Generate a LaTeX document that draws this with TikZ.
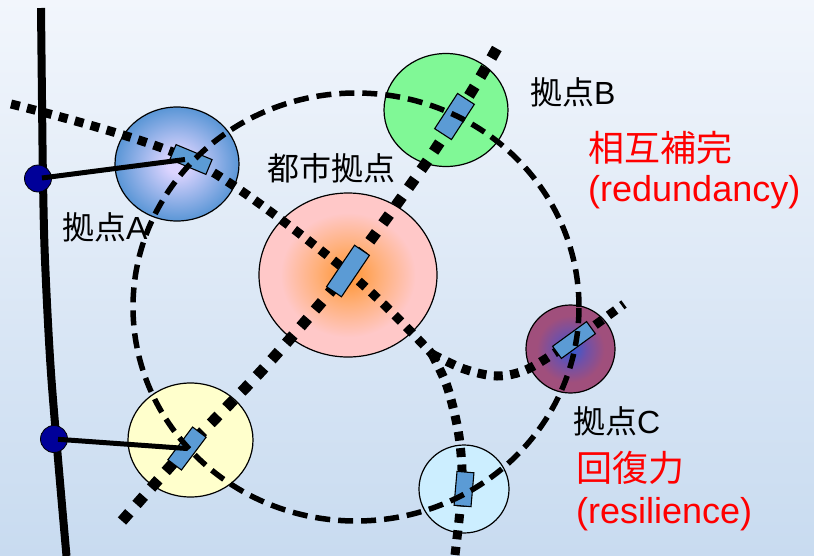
\documentclass[tikz,border=0pt]{standalone}
\usepackage{fontspec}
\setmainfont{Liberation Sans}
\newfontfamily\cjk{Noto Sans CJK JP}
\usetikzlibrary{shapes.geometric,calc}
\definecolor{bgtop}{HTML}{F2F6FC}
\definecolor{bgbot}{HTML}{C8DBF0}
\definecolor{boxblue}{HTML}{5B9BD5}
\definecolor{lavA}{HTML}{DCD4FF}
\definecolor{bluA}{HTML}{5A96D6}
\definecolor{orgC}{HTML}{FF9330}
\definecolor{peachC}{HTML}{FFB07A}
\definecolor{pinkC}{HTML}{FFC8C8}
\definecolor{greenB}{HTML}{80F896}
\definecolor{blueC}{HTML}{2C5CD8}
\definecolor{purpC}{HTML}{7050A8}
\definecolor{mauveC}{HTML}{A04F7C}
\definecolor{yelY}{HTML}{FFFFCC}
\definecolor{ltblue}{HTML}{CCEEFF}
\definecolor{navy}{HTML}{000099}
\definecolor{txtred}{HTML}{FF0000}
\pgfdeclareradialshading{shA}{\pgfpoint{0bp}{0bp}}{color(0bp)=(lavA); color(4bp)=(lavA); color(25bp)=(bluA); color(50bp)=(bluA)}
\pgfdeclareradialshading{shCen}{\pgfpoint{0bp}{0bp}}{color(0bp)=(orgC); color(9bp)=(peachC); color(19bp)=(pinkC); color(50bp)=(pinkC)}
\pgfdeclareradialshading{shC}{\pgfpoint{0bp}{0bp}}{color(0bp)=(blueC); color(9bp)=(purpC); color(19bp)=(mauveC); color(50bp)=(mauveC)}
\tikzset{
  site/.style={ellipse, draw=black, line width=1.2pt, inner sep=0pt, outer sep=0pt},
  stn/.style={rectangle, draw=black, line width=1.1pt, fill=boxblue, inner sep=0pt},
  rail/.style={line width=8pt},
  bigdots/.style={line width=11pt, dash pattern=on 11pt off 11pt},
  smalldots/.style={line width=9pt, dash pattern=on 9pt off 7.5pt},
  ring/.style={line width=5.5pt, dash pattern=on 15pt off 8pt},
  conn/.style={line width=5pt},
  junc/.style={circle, draw=black, line width=0.8pt, fill=navy, minimum size=27pt, inner sep=0pt},
  lbl/.style={anchor=west, inner sep=0pt, text=black, font=\fontsize{32}{38}\selectfont},
  redlbl/.style={anchor=west, inner sep=0pt, text=txtred, font=\fontsize{36}{42}\selectfont}
}
\begin{document}
\begin{tikzpicture}[x=1pt,y=-1pt]
\useasboundingbox (0,0) rectangle (814,555);
\shade[top color=bgtop,bottom color=bgbot] (0,0) rectangle (814,555);
% rail
\draw[rail] plot[smooth] coordinates {(41,8) (42,100) (43,180) (45,260) (51.5,380) (66.5,556)};
% sites
\node[site, shade, shading=shA, minimum width=124pt, minimum height=114pt] (cA) at (177,164) {};
\node[site, shade, shading=shCen, minimum width=178pt, minimum height=164pt] (cCen) at (348,275) {};
\node[site, fill=greenB, minimum width=124pt, minimum height=113pt] (cB) at (446,110) {};
\node[site, shade, shading=shC, minimum width=89pt, minimum height=88pt] (cC) at (570.5,349) {};
\node[site, fill=yelY, minimum width=125pt, minimum height=114pt] (cY) at (190.5,440) {};
\node[site, fill=ltblue, minimum width=90pt, minimum height=88pt] (cL) at (464,489) {};
% dotted lines
\coordinate (jn) at (432,354);
\draw[smalldots] plot[smooth] coordinates {(11,104) (191,160) (348,272) (jn)};
\draw[smalldots] plot[smooth] coordinates {(jn) (464,369) (497,376) (528,369) (574,340) (624,304)};
\draw[smalldots] plot[smooth] coordinates {(jn) (447,386) (458,430) (462,470) (460,510) (455,555)};
\draw[bigdots] plot[smooth] coordinates {(122,521) (187,448) (265,367) (348,270) (428,160) (475,86) (501,41)};
% stations
\node[stn, minimum width=39pt, minimum height=16pt, rotate=-22.6] (bA) at (191,159.5) {};
\node[stn, minimum width=50pt, minimum height=18pt, rotate=56] (bCen) at (348,271) {};
\node[stn, minimum width=42pt, minimum height=20pt, rotate=57] (bB) at (454.5,116.5) {};
\node[stn, minimum width=42pt, minimum height=15pt, rotate=36] (bC) at (574,340) {};
\node[stn, minimum width=41pt, minimum height=17pt, rotate=53] (bY) at (187,448.5) {};
\node[stn, minimum width=34pt, minimum height=17pt, rotate=85] (bL) at (464,489) {};
% ring
\coordinate (ringc) at (356,307);
\draw[ring] (ringc) ellipse [x radius=223pt, y radius=214pt];
% junctions and connectors
\node[junc] (dA) at (38,178.5) {};
\node[junc] (dY) at (54,439) {};
\draw[conn, shorten <=4pt] (dA.center) -- ($(bA.center)+(-6,0)$);
\draw[conn, shorten <=4pt] (dY.center) -- (bY.center);
% labels
\node[lbl] (tCen) at (267,168) {{\cjk 都市拠点}};
\node[lbl] (tA) at (62,227) {{\cjk 拠点}A};
\node[lbl] (tB) at (530,92.5) {{\cjk 拠点}B};
\node[lbl] (tC) at (573,421.5) {{\cjk 拠点}C};
\node[redlbl] (tR1) at (588,147.5) {{\cjk 相互補完}};
\node[redlbl] (tR2) at (588,192.5) {(redundancy)};
\node[redlbl] (tR3) at (576,468) {{\cjk 回復力}};
\node[redlbl] (tR4) at (576,514.5) {(resilience)};
\end{tikzpicture}
\end{document}
